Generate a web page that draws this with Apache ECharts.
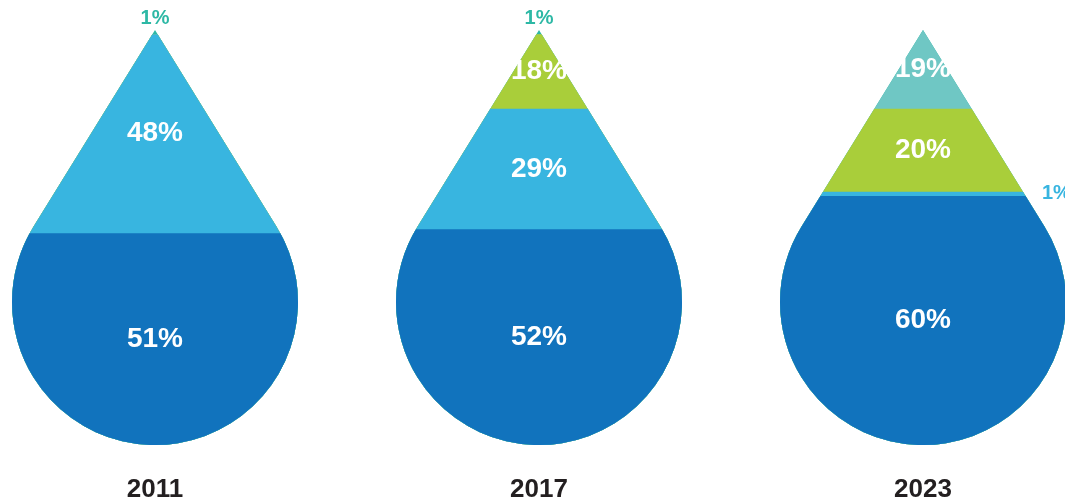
<!DOCTYPE html>
<html>
<head>
<meta charset="utf-8">
<style>html,body{margin:0;padding:0;background:#fff;}#chart{width:1065px;height:500px;}</style>
<script src="https://cdn.jsdelivr.net/npm/echarts@6/dist/echarts.min.js"></script>
</head>
<body>
<div id="chart"></div>
<script>
// ---- data ----
const years = ['2011', '2017', '2023'];
const darkBlue = [51, 52, 60];
const lightBlue = [48, 29, 1];
const green = [0, 18, 20];
const tealLight = [0, 0, 19];
const teal = [1, 1, 0];

// layers bottom -> top
const layers = [
  { name: 'darkBlue', data: darkBlue, color: '#1173bd', labelColor: '#1173bd' },
  { name: 'lightBlue', data: lightBlue, color: '#38b5e0', labelColor: '#38b5e0' },
  { name: 'green', data: green, color: '#a9ce3a', labelColor: '#a9ce3a' },
  { name: 'tealLight', data: tealLight, color: '#6fc7c4', labelColor: '#6fc7c4' },
  { name: 'teal', data: teal, color: '#2db8a5', labelColor: '#2db8a5' }
];

const dropPath = 'path://M143 0 L264.6 196.8 A143 143 0 1 1 21.4 196.8 Z';

// cumulative tops
const cum = [];
years.forEach((y, i) => {
  let s = 0;
  layers.forEach((l, k) => {
    s += l.data[i];
    if (!cum[k]) cum[k] = [];
    cum[k][i] = s;
  });
});

const barSeries = [];
for (let k = layers.length - 1; k >= 0; k--) {
  barSeries.push({
    type: 'pictorialBar',
    name: layers[k].name,
    symbol: dropPath,
    symbolSize: [286, '100%'],
    symbolBoundingData: 100,
    symbolClip: true,
    symbolPosition: 'start',
    barGap: '-100%',
    barCategoryGap: '20%',
    itemStyle: { color: layers[k].color },
    silent: true,
    data: cum[k]
  });
}

const labelData = [];
years.forEach((y, i) => {
  let low = 0;
  layers.forEach((l, k) => {
    const v = l.data[i];
    if (v > 0) {
      const high = low + v;
      const base = { fontFamily: 'Liberation Sans, Arial, sans-serif', fontWeight: 'bold' };
      let item;
      if (v < 3 && high >= 100) {
        item = { value: [i, 100], label: Object.assign({}, base, { show: true, position: 'top', distance: 2, fontSize: 20, color: l.labelColor, formatter: v + '%' }) };
      } else if (v < 3) {
        item = { value: [i, (low + high) / 2], label: Object.assign({}, base, { show: true, position: 'right', distance: 119, fontSize: 20, color: l.labelColor, formatter: v + '%' }) };
      } else {
        item = { value: [i, (low + high) / 2], label: Object.assign({}, base, { show: true, position: 'inside', fontSize: 28, color: '#ffffff', formatter: v + '%' }) };
      }
      labelData.push(item);
      low = high;
    }
  });
});

const chart = echarts.init(document.getElementById('chart'));
chart.setOption({
  animation: false,
  grid: { left: -37, right: -50, top: 30, bottom: 55, containLabel: false, outerBoundsMode: 'none' },
  xAxis: {
    type: 'category',
    data: years,
    axisLine: { show: false },
    axisTick: { show: false },
    axisLabel: { margin: 32, fontSize: 26, fontWeight: 'bold', color: '#231f20', fontFamily: 'Liberation Sans, Arial, sans-serif' }
  },
  yAxis: {
    type: 'value', min: 0, max: 100,
    show: false,
    splitLine: { show: false }
  },
  series: barSeries.concat([{
    type: 'scatter',
    symbolSize: 0,
    itemStyle: { color: 'transparent', opacity: 1 },
    silent: true,
    z: 10,
    data: labelData
  }])
});
</script>
</body>
</html>
